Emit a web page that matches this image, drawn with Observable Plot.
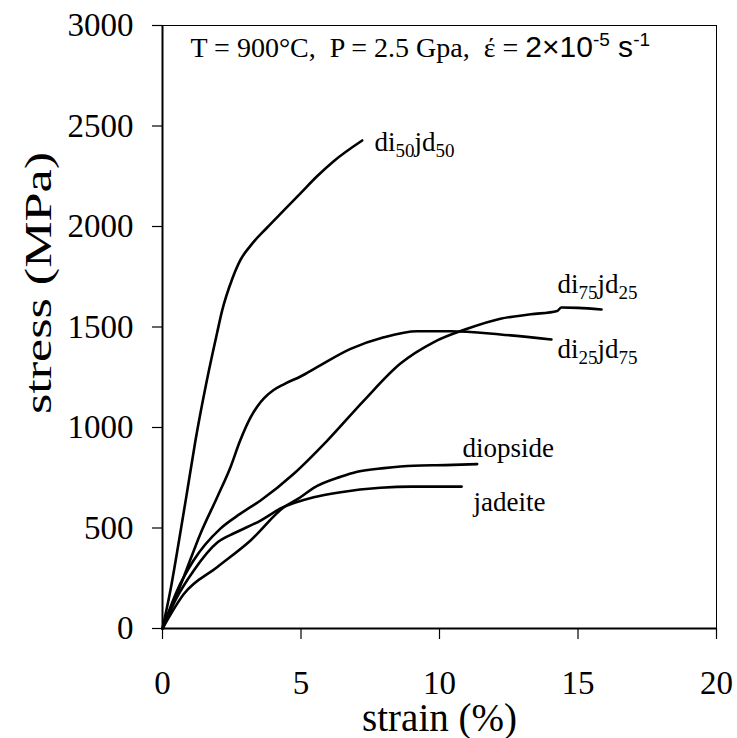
<!DOCTYPE html>
<html>
<head>
<meta charset="utf-8">
<script src="https://cdn.jsdelivr.net/npm/d3@7"></script>
<script src="https://cdn.jsdelivr.net/npm/@observablehq/plot@0.6"></script>
<style>
  html, body { margin: 0; padding: 0; background: white; }
  svg text { white-space: pre; }
</style>
</head>
<body>
<div id="chart"></div>
<script>
// ---- data ----
const xTicks = [0, 5, 10, 15, 20];
const yTicks = [0, 500, 1000, 1500, 2000, 2500, 3000];

const di50jd50Strain = [0, 0.3, 0.6, 0.9, 1.19, 1.61, 1.97, 2.15, 2.52, 2.82, 3.18, 3.78, 4.38, 4.98, 5.58, 6.18, 7.21];
const di50jd50Stress = [0, 200, 440, 690, 935, 1240, 1470, 1580, 1740, 1835, 1905, 1995, 2080, 2165, 2250, 2325, 2428];

const di25jd75Strain = [0, 0.76, 1.37, 1.97, 2.45, 2.79, 3.18, 3.45, 3.66, 4.0, 4.38, 5.0, 5.58, 6.79, 7.99, 9.19, 10.4, 12.2, 14.04];
const di25jd75Stress = [0, 254, 472, 652, 801, 930, 1050, 1110, 1145, 1185, 1215, 1255, 1300, 1391, 1449, 1479, 1479, 1463, 1438];

const di75jd25Strain = [0, 0.53, 1.12, 2.09, 2.8, 3.54, 4.74, 5.95, 7.27, 8.59, 9.8, 11.0, 12.2, 13.3, 14.25, 14.4, 15.0, 15.85];
const di75jd25Stress = [0, 189, 338, 497, 570, 637, 770, 935, 1134, 1318, 1425, 1491, 1541, 1563, 1580, 1597, 1595, 1587];

const diopsideStrain = [0, 0.77, 1.97, 3.18, 4.38, 4.98, 5.46, 6.43, 7.03, 8.0, 9.07, 10.2, 11.36];
const diopsideStress = [0, 172, 305, 438, 603, 653, 700, 755, 780, 798, 810, 813, 818];

const jadeiteStrain = [0, 0.5, 1.13, 2.0, 2.6, 3.54, 4.26, 5.46, 6.43, 7.87, 9.0, 10.8];
const jadeiteStress = [0, 150, 289, 430, 475, 537, 597, 653, 678, 700, 706, 706];

const seriesNames = ["di50jd50", "di25jd75", "di75jd25", "diopside", "jadeite"];
// label anchors in data units (strain %, stress MPa)
const labelStrain = [7.65, 14.26, 14.26, 10.83, 11.23];
const labelStress = [2378, 1348, 1667, 851, 587];
// label text parts: [text, isSubscript]
const labelParts = {
  "di50jd50": [["di", 0], ["50", 1], ["jd", 0], ["50", 1]],
  "di25jd75": [["di", 0], ["25", 1], ["jd", 0], ["75", 1]],
  "di75jd25": [["di", 0], ["75", 1], ["jd", 0], ["25", 1]],
  "diopside": [["diopside", 0]],
  "jadeite": [["jadeite", 0]]
};

const xLabel = "strain (%)";
const yLabel = "stress (MPa)";
const conditionText = "T = 900°C,  P = 2.5 Gpa,  έ = 2×10-5 s-1";

// ---- build table ----
const seriesData = [
  [di50jd50Strain, di50jd50Stress],
  [di25jd75Strain, di25jd75Stress],
  [di75jd25Strain, di75jd25Stress],
  [diopsideStrain, diopsideStress],
  [jadeiteStrain, jadeiteStress]
];
const rows = [];
seriesData.forEach(([xs, ys], i) => xs.forEach((x, j) => rows.push({series: seriesNames[i], strain: x, stress: ys[j]})));
const labels = seriesNames.map((s, i) => ({name: s, strain: labelStrain[i], stress: labelStress[i]}));

const serif = "'Liberation Serif', 'Times New Roman', serif";
const sans = "'Liberation Sans', Arial, sans-serif";

const chart = Plot.plot({
  width: 737,
  height: 738,
  marginLeft: 162,
  marginRight: 21,
  marginTop: 25,
  marginBottom: 110,
  style: {fontFamily: serif, background: "white", color: "black", overflow: "visible"},
  x: {domain: [0, 20], label: null},
  y: {domain: [0, 3000], label: null},
  marks: [
    Plot.frame({stroke: "black", strokeWidth: 1}),
    Plot.axisX({ticks: xTicks, tickFormat: d => String(d), tickSize: 11, tickPadding: 31, fontSize: 33, label: null, strokeWidth: 1.2}),
    Plot.axisY({ticks: yTicks, tickFormat: d => String(d), tickSize: 10, tickPadding: 19, fontSize: 33, label: null, strokeWidth: 1.2}),
    Plot.ruleX([0], {stroke: "black", strokeWidth: 2}),
    Plot.ruleY([0], {stroke: "black", strokeWidth: 2}),
    Plot.line(rows, {x: "strain", y: "stress", z: "series", stroke: "black", strokeWidth: 2.6, curve: "monotone-x"}),
    Plot.text(labels, {x: "strain", y: "stress", text: "name", textAnchor: "start", lineAnchor: "bottom", fontSize: 27, fill: "black"}),
    Plot.text([conditionText], {frameAnchor: "top-left", dx: 28, dy: 31, textAnchor: "start", lineAnchor: "bottom", fontSize: 28, fill: "black"}),
    Plot.text([xLabel], {frameAnchor: "bottom", dy: 102, textAnchor: "middle", lineAnchor: "bottom", fontSize: 39, fill: "black"}),
    Plot.text([yLabel], {frameAnchor: "left", dx: -112, dy: -44, rotate: -90, textAnchor: "middle", lineAnchor: "bottom", fontSize: 38, fill: "black"})
  ]
});

document.getElementById("chart").appendChild(chart);

// ---- rich text: subscripts and superscripts ----
const svg = d3.select(chart);
svg.selectAll("text").each(function() {
  const t = this.textContent;
  const sel = d3.select(this);
  if (labelParts[t]) {
    sel.text(null);
    let shifted = false;
    labelParts[t].forEach(([s, sub]) => {
      const ts = sel.append("tspan").text(s);
      if (sub && !shifted) { ts.attr("font-size", 19).attr("dy", 6); shifted = true; }
      else if (!sub && shifted) { ts.attr("dy", -6); shifted = false; }
      else if (sub) { ts.attr("font-size", 19); }
    });
  } else if (t === conditionText) {
    sel.text(null);
    sel.append("tspan").text("T = 900°C,  P = 2.5 Gpa,  έ = ");
    sel.append("tspan").attr("font-family", sans).attr("font-size", 30).text("2×10");
    sel.append("tspan").attr("font-family", sans).attr("font-size", 19).attr("dy", -11).text("-5");
    sel.append("tspan").attr("font-family", sans).attr("font-size", 30).attr("dy", 11).text(" s");
    sel.append("tspan").attr("font-family", sans).attr("font-size", 19).attr("dy", -11).text("-1");
  } else if (t === yLabel) {
    // the reference's axis title is drawn tall and narrow
    sel.attr("textLength", 262).attr("lengthAdjust", "spacingAndGlyphs");
  }
});
</script>
</body>
</html>
